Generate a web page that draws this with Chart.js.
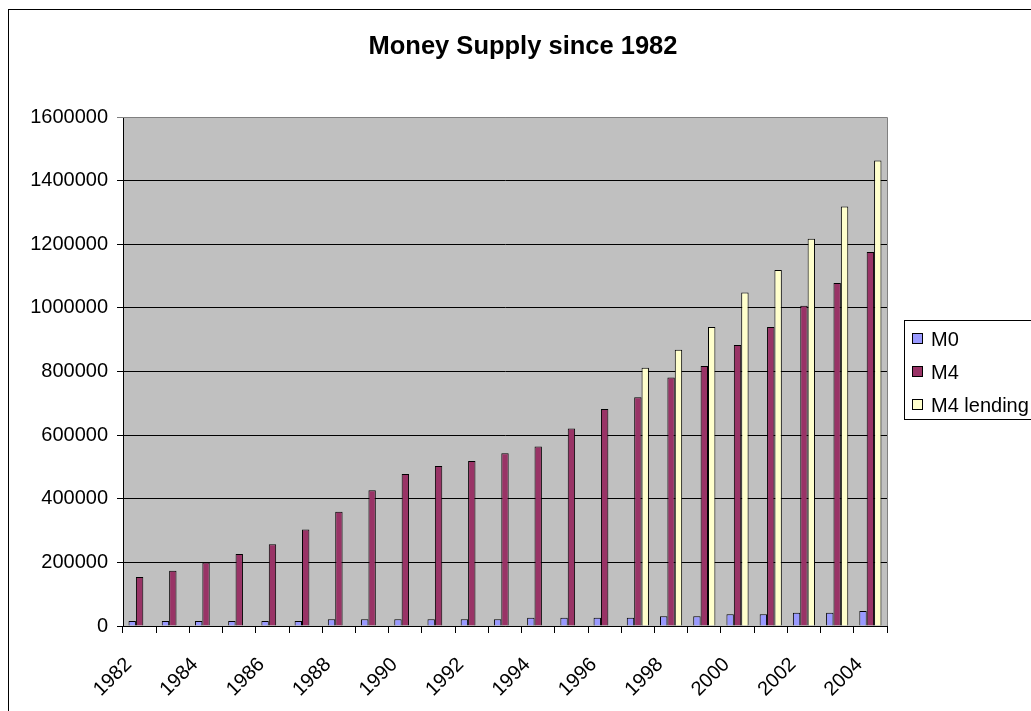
<!DOCTYPE html>
<html>
<head>
<meta charset="utf-8">
<script src="https://cdn.jsdelivr.net/npm/chart.js@4/dist/chart.umd.min.js"></script>
<style>
html,body{margin:0;padding:0;background:#fff;overflow:hidden;}
#wrap{position:relative;width:1031px;height:711px;overflow:hidden;}
</style>
</head>
<body>
<div id="wrap"><canvas id="moneyChart" width="1046" height="711"></canvas></div>
<script>
const years=['1982','1983','1984','1985','1986','1987','1988','1989','1990','1991','1992','1993','1994','1995','1996','1997','1998','1999','2000','2001','2002','2003','2004'];
const m0=[15500,15500,15500,15500,15500,15500,21000,21000,21000,21000,21000,21000,26000,26000,26000,26000,31000,31000,37000,37000,42000,42000,47000];
const m4=[154000,174000,200000,226000,257000,303000,359000,427000,478000,503000,519000,543000,564000,621000,682000,719000,781000,817000,883000,940000,1007000,1078000,1176000];
const m4Lending=[null,null,null,null,null,null,null,null,null,null,null,null,null,null,null,812000,868000,940000,1048000,1119000,1217000,1319000,1463000];
const seriesNames=['M0','M4','M4 lending'];
const seriesColors=['#9999FF','#993366','#FFFFCC'];
const yMax=1600000, yStep=200000;

const FONT='Arial, "Liberation Sans", sans-serif';
const ctx=document.getElementById('moneyChart').getContext('2d');

// grey plot area + outer frame
const plotBg={id:'plotBg',
  beforeDraw(c){const a=c.chartArea,g=c.ctx; g.save(); g.fillStyle='#C0C0C0'; g.fillRect(a.left,a.top,a.right-a.left,a.bottom-a.top); g.restore();},
  afterDraw(c){const a=c.chartArea,g=c.ctx; g.save(); g.strokeStyle='#808080'; g.lineWidth=1;
    g.beginPath(); g.moveTo(a.left,a.top+0.5); g.lineTo(a.right+0.5,a.top+0.5); g.lineTo(a.right+0.5,a.bottom); g.stroke();
    g.strokeStyle='#000'; g.strokeRect(8.5,9.5,1100,800); g.restore();}
};

// boxed legend like the original, partly cut off at the right edge
const boxLegend={id:'boxLegend',
  afterDraw(c){const g=c.ctx; g.save();
    g.strokeStyle='#000'; g.lineWidth=1; g.strokeRect(904.5,320.5,200,99);
    g.font='20px '+FONT; g.textBaseline='middle'; g.fillStyle='#000';
    c.data.datasets.forEach((d,i)=>{const y=339+i*33;
      g.fillStyle=d.backgroundColor; g.fillRect(912,y-6,11,11);
      g.strokeStyle='#000'; g.strokeRect(912.5,y-5.5,10,10);
      g.fillStyle='#000'; g.fillText(d.label,931,y+1);});
    g.restore();}
};

const mk=(i,data)=>({label:seriesNames[i],data,backgroundColor:seriesColors[i],borderColor:'#000',borderWidth:1,categoryPercentage:0.667,barPercentage:1.0});

new Chart(ctx,{type:'bar',
  data:{labels:years,datasets:[mk(0,m0),mk(1,m4),mk(2,m4Lending)]},
  options:{responsive:false,animation:false,devicePixelRatio:1,
    layout:{padding:0},
    plugins:{legend:{display:false},tooltip:{enabled:false},
      title:{display:true,text:'Money Supply since 1982',color:'#000',font:{family:FONT,size:25.5,weight:'bold'},padding:{top:32,bottom:54.4}}},
    scales:{
      x:{offset:true,
        grid:{offset:true,drawOnChartArea:false,drawTicks:true,tickLength:7,color:'#000',lineWidth:1},
        border:{display:true,color:'#000',width:1},
        ticks:{autoSkip:false,minRotation:45,maxRotation:45,color:'#000',font:{family:FONT,size:20},padding:20,labelOffset:-11,
          callback:function(v,i){return i%2===0?this.getLabelForValue(v):'';}},
        afterFit(s){s.height=85;}},
      y:{min:0,max:yMax,
        grid:{color:c=>c.tick&&c.tick.value===yMax?'#808080':'#000',lineWidth:1,tickLength:6,drawTicks:true},
        border:{display:true,color:'#000',width:1},
        ticks:{stepSize:yStep,color:'#000',font:{family:FONT,size:20},padding:9,callback:v=>String(v)},
        afterFit(s){s.width=123;}},
      // empty right-hand space for the legend column
      yRight:{position:'right',display:true,grid:{display:false},border:{display:false},ticks:{display:false},
        afterFit(s){s.width=159;}}
    }},
  plugins:[plotBg,boxLegend]});
</script>
</body>
</html>
